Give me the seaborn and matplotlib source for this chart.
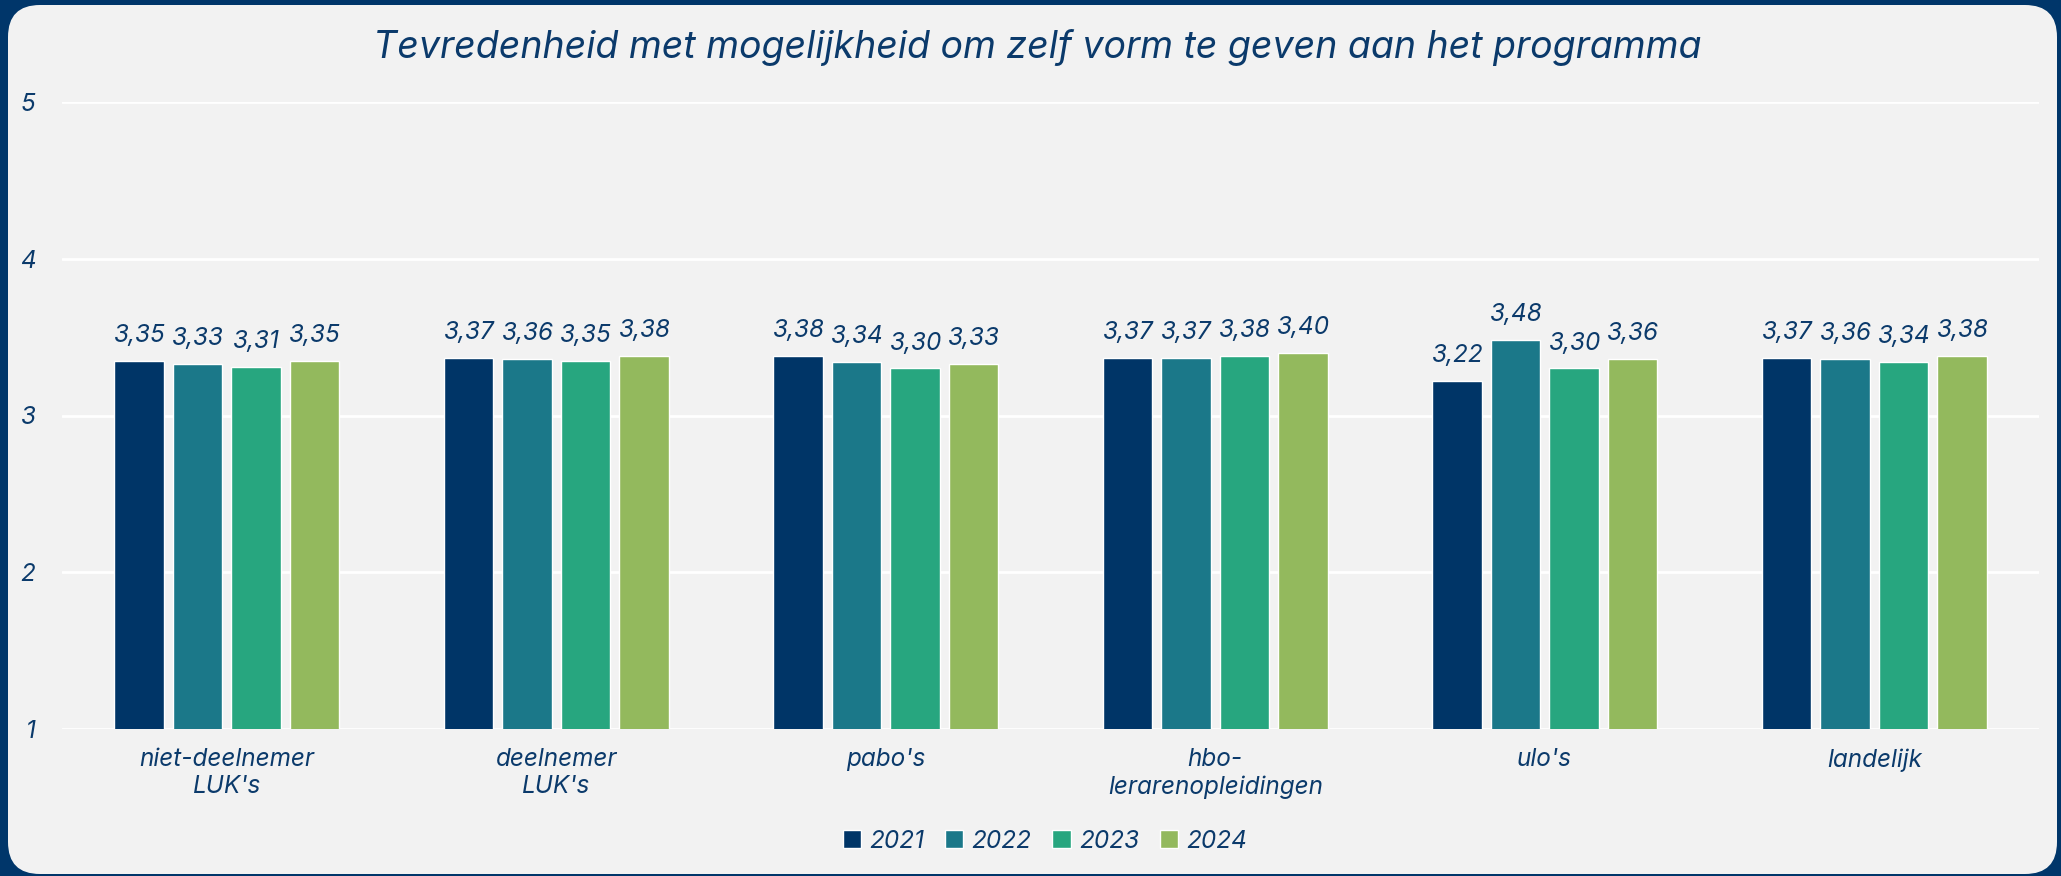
import numpy as np
import pandas as pd
import seaborn as sns
import matplotlib.pyplot as plt
from matplotlib.patches import FancyBboxPatch
from matplotlib.patches import Patch

categories = ["niet-deelnemer\nLUK's", "deelnemer\nLUK's", "pabo's",
              "hbo-\nlerarenopleidingen", "ulo's", "landelijk"]
years = ["2021", "2022", "2023", "2024"]
v2021 = [3.35, 3.37, 3.38, 3.37, 3.22, 3.37]
v2022 = [3.33, 3.36, 3.34, 3.37, 3.48, 3.36]
v2023 = [3.31, 3.35, 3.30, 3.38, 3.30, 3.34]
v2024 = [3.35, 3.38, 3.33, 3.40, 3.36, 3.38]
colors = ["#003567", "#1b7889", "#27a67f", "#93b95d"]

txt = "#0b3a6b"
navy = "#00366a"
bg = "#f2f2f2"

rows = []
for yr, vals in zip(years, [v2021, v2022, v2023, v2024]):
    for c, v in zip(categories, vals):
        rows.append({"cat": c, "jaar": yr, "score": v})
df = pd.DataFrame(rows)

sns.set_style("white")
plt.rcParams['font.family'] = ['Inter', 'DejaVu Sans']
plt.rcParams['font.style'] = 'italic'

W, H = 2061, 876
fig = plt.figure(figsize=(W / 100, H / 100), dpi=100)
fig.patch.set_facecolor(navy)

# achtergrond paneel met ronde hoeken
bax = fig.add_axes([0, 0, 1, 1])
bax.set_xlim(0, W)
bax.set_ylim(0, H)
bax.axis("off")
bax.add_patch(FancyBboxPatch((8, 2), W - 12, H - 7,
                             boxstyle="round,pad=0,rounding_size=32",
                             facecolor=bg, edgecolor="none"))

ax = fig.add_axes([62 / W, 1 - 729 / H, (2039 - 62) / W, (729 - 102) / H])
ax.set_facecolor("none")
sns.barplot(data=df, x="cat", y="score", hue="jaar", palette=colors,
            width=0.71, gap=0.15, ax=ax, legend=False, saturation=1)

for cont in ax.containers:
    vals = [b.get_height() for b in cont]
    ax.bar_label(cont, labels=[f"{v:.2f}".replace(".", ",") for v in vals],
                 padding=10, fontsize=17.5, color=txt, style="italic")

ax.set_ylim(1, 5)
ax.set_xlim(-0.5, 5.5)
ax.set_yticks([1, 2, 3, 4, 5])
ax.yaxis.grid(True, color="white", linewidth=2)
ax.set_axisbelow(True)
sns.despine(ax=ax, left=True, bottom=True)
ax.tick_params(axis="y", length=0, pad=19, labelsize=17.5, labelcolor=txt)
ax.tick_params(axis="x", length=0, pad=14, labelsize=17.5, labelcolor=txt)
ax.set_xlabel("")
ax.set_ylabel("")

fig.text(1037 / W, 1 - 47 / H,
         "Tevredenheid met mogelijkheid om zelf vorm te geven aan het programma",
         ha="center", va="center", fontsize=27, color=txt, style="italic")

handles = [Patch(facecolor=c, label=y) for c, y in zip(colors, years)]
fig.legend(handles=handles, loc="center", bbox_to_anchor=(1045 / W, 1 - 841 / H),
           ncol=4, frameon=False, fontsize=17.5, labelcolor=txt,
           handlelength=0.75, handleheight=0.75, handletextpad=0.35,
           columnspacing=0.85)

fig.savefig("out.png", dpi=100, facecolor=navy)
